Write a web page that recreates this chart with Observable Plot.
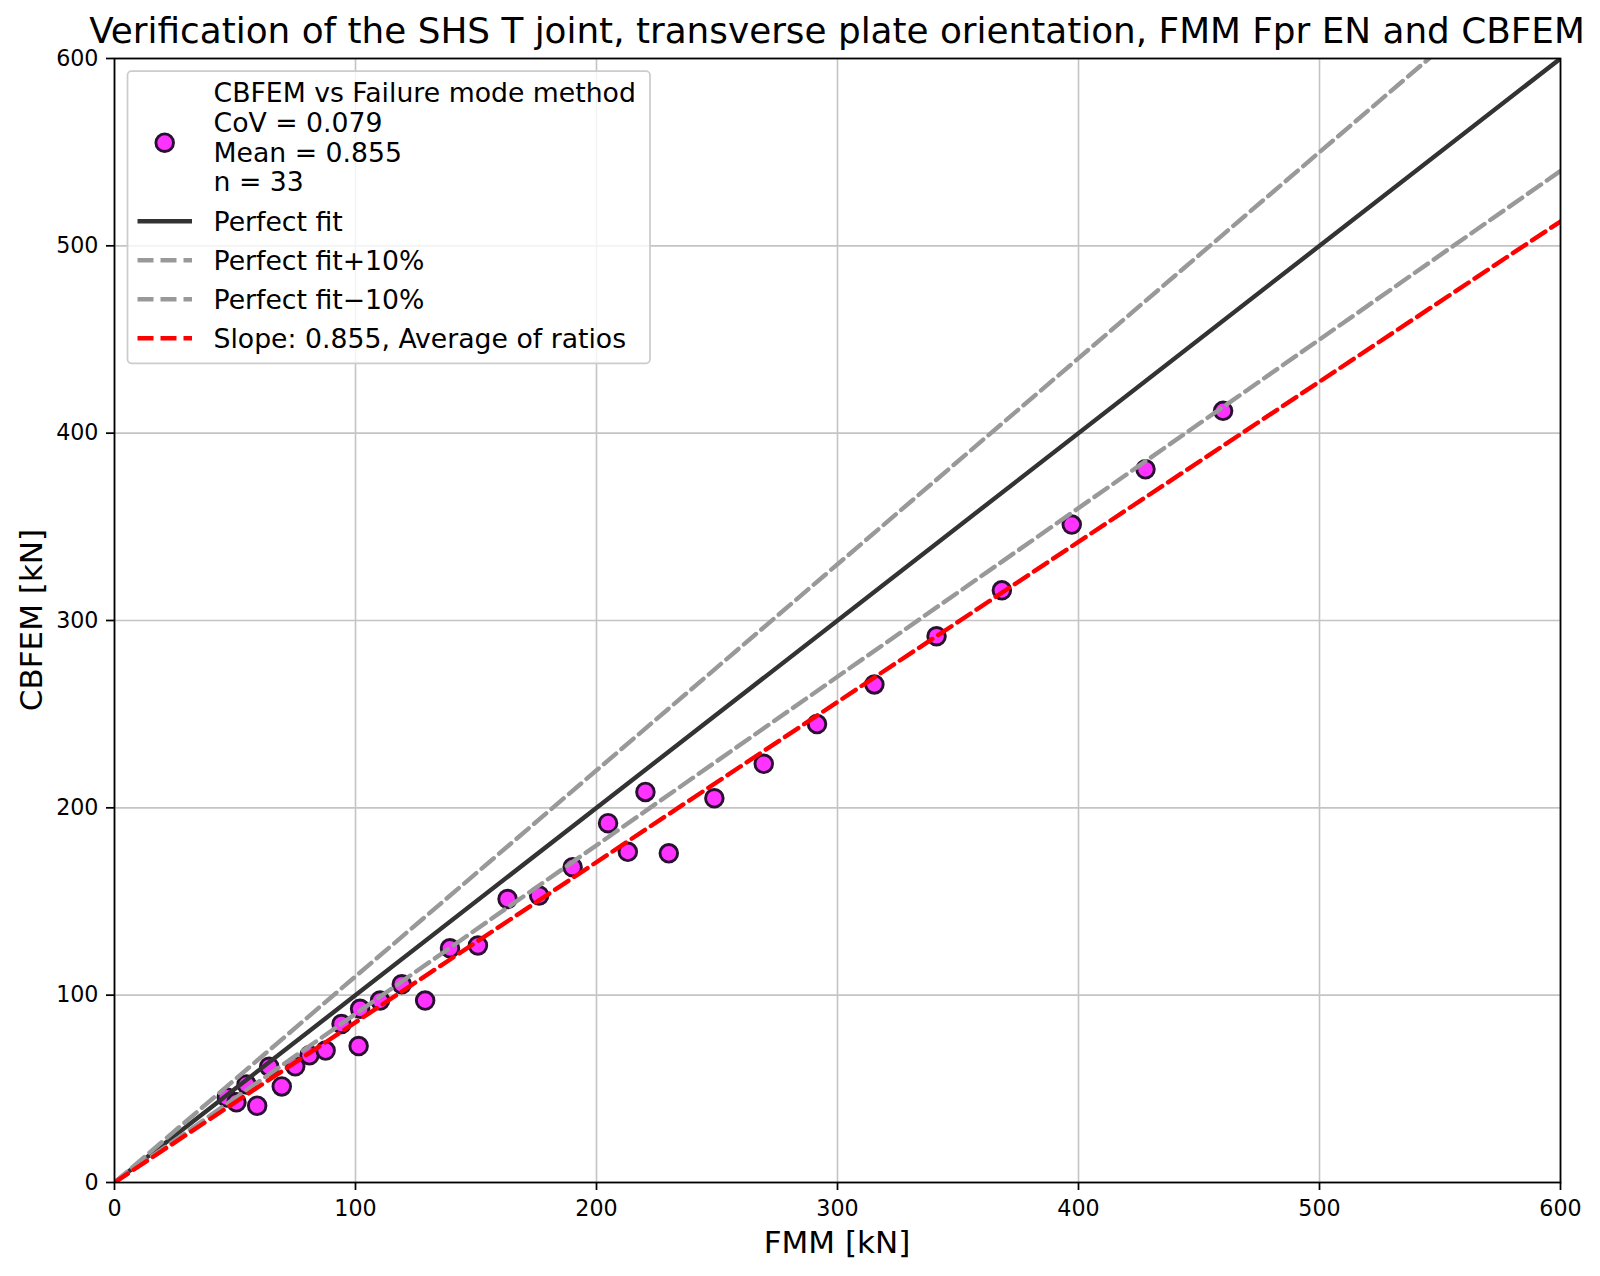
<!DOCTYPE html>
<html>
<head>
<meta charset="utf-8">
<script src="https://cdn.jsdelivr.net/npm/d3@7"></script>
<script src="https://cdn.jsdelivr.net/npm/@observablehq/plot@0.6"></script>
<style>
  html, body { margin: 0; padding: 0; background: #fff; }
  #chart svg { display: block; }
</style>
</head>
<body>
<div id="chart"></div>
<script>
// ---- data ----
const fmm = [46.6, 50.6, 54.8, 59.2, 64.2, 69.4, 75.0, 80.9, 87.6, 94.2, 101.9, 101.3, 110.2, 119.2, 128.9, 139.2, 150.8, 163.1, 176.2, 190.1, 204.8, 213.0, 220.3, 230.0, 248.9, 269.4, 291.5, 315.3, 341.1, 368.2, 397.2, 427.8, 460.0];
const cbfem = [45.4, 42.8, 52.3, 41.0, 61.8, 51.3, 62.0, 67.9, 70.4, 84.6, 92.7, 72.8, 97.1, 105.8, 97.1, 125.0, 126.5, 151.3, 153.2, 168.3, 191.8, 176.5, 208.5, 175.7, 205.1, 223.5, 244.7, 265.9, 291.6, 316.1, 351.2, 380.7, 411.9];
const xTicks = [0, 100, 200, 300, 400, 500, 600];
const yTicks = [0, 100, 200, 300, 400, 500, 600];
const lineX = [0, 600];
const fitNames = ["Perfect fit", "Perfect fit+10%", "Perfect fit\u221210%", "Slope: 0.855, Average of ratios"];
const fitSlopes = [1, 1.1, 0.9, 0.855];
const fitColors = ["#333333", "#999999", "#999999", "#ff0000"];
const fitDash = [null, "16,7", "16,7", "16,7"];
const scatterLegend = ["CBFEM vs Failure mode method", "CoV = 0.079", "Mean = 0.855", "n = 33"];
const titleText = "Verification of the SHS T joint, transverse plate orientation, FMM Fpr EN and CBFEM";
const xLabel = "FMM [kN]";
const yLabel = "CBFEM [kN]";

const points = fmm.map((v, i) => ({x: v, y: cbfem[i]}));
const fitLines = fitSlopes.map((k, i) => lineX.map(x => ({x, y: k * x, name: fitNames[i]})));

const W = 1600, H = 1276;
const mL = 114, mR = 40, mT = 58, mB = 94;
const ptFill = "#ff33ff", ptStroke = "#2a1030";
const lw = 4.4;
const ptR = 8.8, ptW = 2.9;

const marks = [
  Plot.gridX(xTicks, {stroke: "#c4c4c4", strokeOpacity: 1, strokeWidth: 1.6}),
  Plot.gridY(yTicks, {stroke: "#c4c4c4", strokeOpacity: 1, strokeWidth: 1.6}),
  Plot.dot(points, {x: "x", y: "y", r: ptR, fill: ptFill, stroke: ptStroke, strokeWidth: ptW})
];
fitLines.forEach((data, i) => {
  marks.push(Plot.line(data, {
    x: "x", y: "y", stroke: fitColors[i], strokeWidth: lw,
    strokeDasharray: fitDash[i] || undefined, clip: true
  }));
});
marks.push(
  Plot.frame({stroke: "black", strokeWidth: 1.75}),
  Plot.axisX({ticks: xTicks, tickSize: 8, tickPadding: 9.5, fontSize: 22.2, strokeWidth: 1.75, label: null, tickFormat: d => String(d)}),
  Plot.axisY({ticks: yTicks, tickSize: 8, tickPadding: 8, fontSize: 22.2, strokeWidth: 1.75, label: null, tickFormat: d => String(d)})
);

const chart = Plot.plot({
  width: W, height: H,
  marginLeft: mL, marginRight: mR, marginTop: mT, marginBottom: mB,
  style: {fontFamily: "DejaVu Sans", background: "white", color: "black", overflow: "visible"},
  x: {domain: [0, 600]},
  y: {domain: [0, 600]},
  marks
});
document.getElementById("chart").appendChild(chart);

// ---- title, axis labels, legend ----
const svg = d3.select(chart);
const cx = mL + (W - mL - mR) / 2;
const cy = mT + (H - mT - mB) / 2;
const font = "DejaVu Sans";

svg.append("text").attr("x", cx).attr("y", 43.3).attr("text-anchor", "middle")
  .attr("font-family", font).attr("font-size", 35.8).attr("fill", "black").text(titleText);
svg.append("text").attr("x", cx).attr("y", 1253).attr("text-anchor", "middle")
  .attr("font-family", font).attr("font-size", 31).attr("fill", "black").text(xLabel);
svg.append("text").attr("transform", `translate(41.5,${cy}) rotate(-90)`).attr("text-anchor", "middle")
  .attr("font-family", font).attr("font-size", 31).attr("fill", "black").text(yLabel);

const lg = svg.append("g").attr("text-anchor", "start");
lg.append("rect").attr("x", 127.5).attr("y", 71.2).attr("width", 522.5).attr("height", 292.1)
  .attr("rx", 4).attr("fill", "white").attr("fill-opacity", 0.8)
  .attr("stroke", "#cccccc").attr("stroke-width", 1.75);
lg.append("circle").attr("cx", 164.7).attr("cy", 142.7).attr("r", ptR)
  .attr("fill", ptFill).attr("stroke", ptStroke).attr("stroke-width", ptW);
const txtX = 213.5;
const scBase = [102.3, 131.7, 161.7, 190.7];
scatterLegend.forEach((t, i) => {
  lg.append("text").attr("x", txtX).attr("y", scBase[i]).attr("text-anchor", "start").attr("font-family", font)
    .attr("font-size", 26.7).attr("fill", "black").text(t);
});
const lnY = [221.3, 260.3, 299.3, 338.3];
const lnBase = [230.7, 270, 309.3, 347.8];
fitNames.forEach((t, i) => {
  const l = lg.append("line").attr("x1", 137.5).attr("x2", 192).attr("y1", lnY[i]).attr("y2", lnY[i])
    .attr("stroke", fitColors[i]).attr("stroke-width", lw);
  if (fitDash[i]) l.attr("stroke-dasharray", fitDash[i]);
  lg.append("text").attr("x", txtX).attr("y", lnBase[i]).attr("text-anchor", "start").attr("font-family", font)
    .attr("font-size", 26.7).attr("fill", "black").text(t);
});
</script>
</body>
</html>
